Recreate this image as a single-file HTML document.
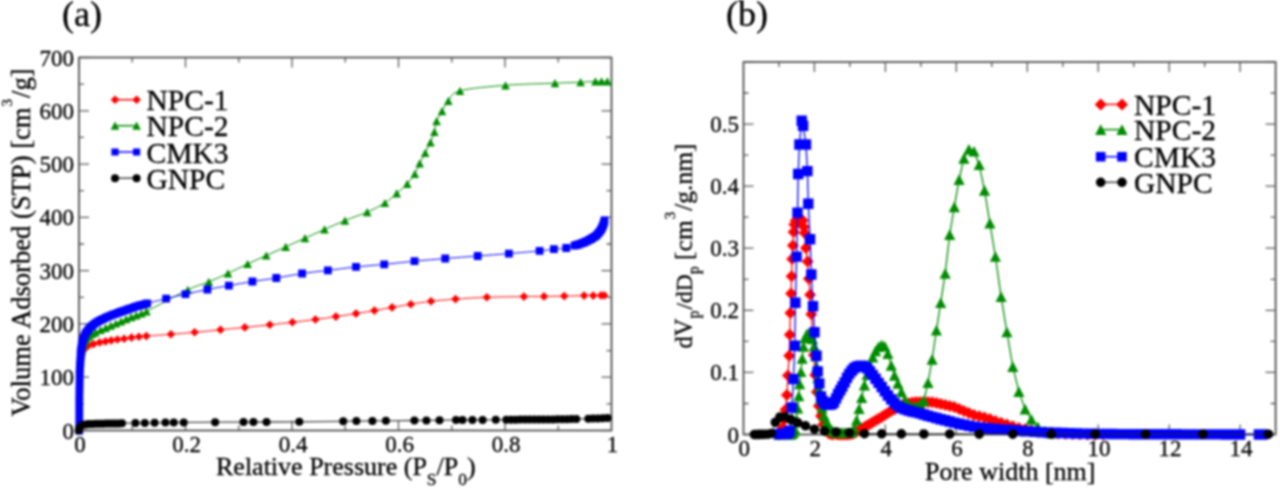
<!DOCTYPE html>
<html><head><meta charset="utf-8"><style>
html,body{margin:0;padding:0;background:#fff;width:1280px;height:488px;overflow:hidden}
svg{display:block;filter:blur(1px);font-family:"Liberation Serif",serif;fill:#000}
text{stroke:#000;stroke-width:0.3px}
</style></head><body>
<svg width="1280" height="488" viewBox="0 0 1280 488">
<rect x="79" y="57.5" width="532.5" height="373.0" fill="none" stroke="#3a3a3a" stroke-width="1.6"/>
<path d="M79 430.5v-10M79 57.5v10M132.2 430.5v-5M132.2 57.5v5M185.5 430.5v-10M185.5 57.5v10M238.8 430.5v-5M238.8 57.5v5M292 430.5v-10M292 57.5v10M345.2 430.5v-5M345.2 57.5v5M398.5 430.5v-10M398.5 57.5v10M451.8 430.5v-5M451.8 57.5v5M505 430.5v-10M505 57.5v10M558.2 430.5v-5M558.2 57.5v5M611.5 430.5v-10M611.5 57.5v10M79 430.5h10M611.5 430.5h-10M79 403.9h5M611.5 403.9h-5M79 377.2h10M611.5 377.2h-10M79 350.6h5M611.5 350.6h-5M79 323.9h10M611.5 323.9h-10M79 297.3h5M611.5 297.3h-5M79 270.6h10M611.5 270.6h-10M79 244h5M611.5 244h-5M79 217.4h10M611.5 217.4h-10M79 190.7h5M611.5 190.7h-5M79 164.1h10M611.5 164.1h-10M79 137.4h5M611.5 137.4h-5M79 110.8h10M611.5 110.8h-10M79 84.1h5M611.5 84.1h-5M79 57.5h10M611.5 57.5h-10" stroke="#5a5a5a" stroke-width="1.3" fill="none"/>
<rect x="743.5" y="62" width="532.0999999999999" height="372.5" fill="none" stroke="#3a3a3a" stroke-width="1.6"/>
<path d="M743.5 434.5v-10M743.5 62v10M779 434.5v-5M779 62v5M814.4 434.5v-10M814.4 62v10M849.9 434.5v-5M849.9 62v5M885.4 434.5v-10M885.4 62v10M920.9 434.5v-5M920.9 62v5M956.3 434.5v-10M956.3 62v10M991.8 434.5v-5M991.8 62v5M1027.3 434.5v-10M1027.3 62v10M1062.8 434.5v-5M1062.8 62v5M1098.2 434.5v-10M1098.2 62v10M1133.7 434.5v-5M1133.7 62v5M1169.2 434.5v-10M1169.2 62v10M1204.7 434.5v-5M1204.7 62v5M1240.1 434.5v-10M1240.1 62v10M1275.6 434.5v-5M1275.6 62v5M743.5 434.5h10M1275.6 434.5h-10M743.5 403.5h5M1275.6 403.5h-5M743.5 372.4h10M1275.6 372.4h-10M743.5 341.4h5M1275.6 341.4h-5M743.5 310.3h10M1275.6 310.3h-10M743.5 279.3h5M1275.6 279.3h-5M743.5 248.2h10M1275.6 248.2h-10M743.5 217.2h5M1275.6 217.2h-5M743.5 186.2h10M1275.6 186.2h-10M743.5 155.1h5M1275.6 155.1h-5M743.5 124.1h10M1275.6 124.1h-10M743.5 93h5M1275.6 93h-5M743.5 62h10M1275.6 62h-10" stroke="#5a5a5a" stroke-width="1.3" fill="none"/>
<path d="M79.6 372C79.6 371.4 79.8 369.6 79.9 368.4C80 367.2 80.1 366.1 80.2 364.9C80.3 363.7 80.4 362.5 80.5 361.3C80.7 360.1 80.9 359 81.1 357.8C81.4 356.6 81.4 355.4 81.8 354.3C82.1 353.1 82.6 352 83.1 351C83.7 350 84.3 348.9 85.1 348.1C85.9 347.2 86.6 346.7 88 346C89.4 345.3 91.5 344.7 93.4 344.1C95.3 343.5 97.6 342.9 99.6 342.5C101.6 342 103.6 341.8 105.5 341.4C107.4 341.1 109.2 340.7 111.2 340.4C113.2 340.1 115.2 339.8 117.4 339.5C119.6 339.2 121.8 339 124.1 338.7C126.4 338.4 129 337.9 131.5 337.6C134 337.3 136.4 337.1 138.9 336.8C141.4 336.6 141 336.5 146.3 336.1C151.6 335.7 162.9 334.9 170.9 334.3C178.9 333.7 186.3 333.1 194.6 332.3C202.9 331.6 212.1 330.6 220.5 329.8C228.9 329 236.6 328.2 244.8 327.4C253 326.6 261.9 325.6 269.8 324.8C277.7 324 284.8 323.2 292.4 322.3C300 321.4 308.1 320.4 315.4 319.5C322.6 318.6 329.1 317.6 335.9 316.6C342.7 315.6 349.6 314.6 356 313.6C362.4 312.6 368.4 311.6 374.4 310.6C380.4 309.6 386 308.5 392.1 307.4C398.2 306.3 404.3 305.2 410.8 304.2C417.3 303.2 423.6 302.1 431 301.3C438.4 300.5 446.2 299.8 455.5 299.1C464.8 298.4 475.4 297.7 486.8 297.3C498.2 296.9 514.4 296.8 523.9 296.6C533.4 296.5 537.3 296.5 544 296.4C550.7 296.3 557.5 296.2 564.2 296.1C570.9 296 579.3 295.7 584.1 295.6C588.9 295.5 590.4 295.6 593.2 295.6C596 295.6 599.1 295.4 601 295.4C602.9 295.4 603.8 295.4 604.3 295.4" fill="none" stroke="#ff0000" stroke-width="1.0" stroke-linejoin="round"/>
<path d="M79.6 367.7l4.3 4.3l-4.3 4.3l-4.3 -4.3zM79.9 364.1l4.3 4.3l-4.3 4.3l-4.3 -4.3zM80.2 360.6l4.3 4.3l-4.3 4.3l-4.3 -4.3zM80.5 357l4.3 4.3l-4.3 4.3l-4.3 -4.3zM81.1 353.5l4.3 4.3l-4.3 4.3l-4.3 -4.3zM81.8 350l4.3 4.3l-4.3 4.3l-4.3 -4.3zM83.1 346.7l4.3 4.3l-4.3 4.3l-4.3 -4.3zM85.1 343.8l4.3 4.3l-4.3 4.3l-4.3 -4.3zM88 341.7l4.3 4.3l-4.3 4.3l-4.3 -4.3zM93.4 339.8l4.3 4.3l-4.3 4.3l-4.3 -4.3zM99.6 338.2l4.3 4.3l-4.3 4.3l-4.3 -4.3zM105.5 337.1l4.3 4.3l-4.3 4.3l-4.3 -4.3zM111.2 336.1l4.3 4.3l-4.3 4.3l-4.3 -4.3zM117.4 335.2l4.3 4.3l-4.3 4.3l-4.3 -4.3zM124.1 334.4l4.3 4.3l-4.3 4.3l-4.3 -4.3zM131.5 333.3l4.3 4.3l-4.3 4.3l-4.3 -4.3zM138.9 332.5l4.3 4.3l-4.3 4.3l-4.3 -4.3zM146.3 331.8l4.3 4.3l-4.3 4.3l-4.3 -4.3zM170.9 330l4.3 4.3l-4.3 4.3l-4.3 -4.3zM194.6 328l4.3 4.3l-4.3 4.3l-4.3 -4.3zM220.5 325.5l4.3 4.3l-4.3 4.3l-4.3 -4.3zM244.8 323.1l4.3 4.3l-4.3 4.3l-4.3 -4.3zM269.8 320.5l4.3 4.3l-4.3 4.3l-4.3 -4.3zM292.4 318l4.3 4.3l-4.3 4.3l-4.3 -4.3zM315.4 315.2l4.3 4.3l-4.3 4.3l-4.3 -4.3zM335.9 312.3l4.3 4.3l-4.3 4.3l-4.3 -4.3zM356 309.3l4.3 4.3l-4.3 4.3l-4.3 -4.3zM374.4 306.3l4.3 4.3l-4.3 4.3l-4.3 -4.3zM392.1 303.1l4.3 4.3l-4.3 4.3l-4.3 -4.3zM410.8 299.9l4.3 4.3l-4.3 4.3l-4.3 -4.3zM431 297l4.3 4.3l-4.3 4.3l-4.3 -4.3zM455.5 294.8l4.3 4.3l-4.3 4.3l-4.3 -4.3zM486.8 293l4.3 4.3l-4.3 4.3l-4.3 -4.3zM523.9 292.3l4.3 4.3l-4.3 4.3l-4.3 -4.3zM544 292.1l4.3 4.3l-4.3 4.3l-4.3 -4.3zM564.2 291.8l4.3 4.3l-4.3 4.3l-4.3 -4.3zM584.1 291.3l4.3 4.3l-4.3 4.3l-4.3 -4.3zM593.2 291.3l4.3 4.3l-4.3 4.3l-4.3 -4.3zM601 291.1l4.3 4.3l-4.3 4.3l-4.3 -4.3zM604.3 291.1l4.3 4.3l-4.3 4.3l-4.3 -4.3z" fill="#ff0000"/>
<path d="M79.6 372C79.6 371.4 79.8 369.7 79.8 368.5C79.9 367.4 80 366.2 80.1 365.1C80.2 363.9 80.3 362.8 80.3 361.6C80.4 360.4 80.5 359.3 80.6 358.1C80.7 357 81 355.9 81.2 354.7C81.4 353.6 81.6 352.4 81.8 351.3C82 350.1 82.1 349 82.4 347.9C82.6 346.7 83.1 345.7 83.5 344.6C83.9 343.5 84.3 342.4 84.8 341.4C85.4 340.4 86.1 339.4 86.8 338.6C87.6 337.7 88.4 336.8 89.2 336.1C90.1 335.3 91 334.6 92 334C93 333.4 94.1 333 95.5 332.3C96.9 331.7 98.9 330.7 100.6 329.9C102.3 329.2 104 328.5 105.7 327.8C107.4 327.1 109.1 326.4 110.8 325.7C112.5 324.9 114.2 324.2 115.9 323.5C117.6 322.8 119.3 322.1 121 321.4C122.7 320.6 124.4 319.9 126.1 319.2C127.8 318.5 129.5 317.7 131.2 317.1C132.9 316.4 134.6 315.9 136.3 315.3C138 314.7 139.7 314.1 141.4 313.4C143.1 312.8 138.8 315.3 146.5 311.4C154.2 307.5 177.4 294.7 187.8 289.8C198.2 284.9 202.1 284.6 208.8 281.9C215.5 279.1 221.5 276.3 228 273.3C234.5 270.3 241.2 267 247.6 264C254 261 259.8 258.4 266.2 255.5C272.6 252.7 279.2 249.8 285.7 246.9C292.2 244 298.5 241.1 305 238.2C311.5 235.3 317.9 232.3 324.5 229.4C331.1 226.5 337.8 223.5 344.9 220.6C352 217.7 360.5 215 367.2 212.1C373.9 209.2 380 206.1 384.9 203C389.8 199.9 393 196.6 396.7 193.4C400.4 190.2 404.2 187.2 407.2 183.9C410.2 180.6 412.7 177.2 414.8 173.8C416.9 170.4 418 166.8 419.7 163.3C421.4 159.8 423.4 156.3 425.2 152.8C427 149.3 429 145.8 430.5 142.3C432 138.8 433.4 135.3 434.4 131.8C435.4 128.3 435.3 124.6 436.6 121.2C437.9 117.8 440.1 114.6 442 111.2C443.9 107.8 445.3 104.2 448.3 100.8C451.3 97.4 450.5 93.4 460 90.8C469.5 88.2 489.7 86.6 505.5 85.3C521.3 84 542.5 83.7 555 83.2C567.5 82.7 573.9 82.5 580.6 82.2C587.3 81.9 591.9 81.5 595.4 81.4C598.9 81.3 599.5 81.4 601.5 81.4C603.5 81.4 606.4 81.4 607.4 81.4" fill="none" stroke="#008c00" stroke-width="1.0" stroke-linejoin="round"/>
<path d="M79.6 367.9L83.9 376.1L75.3 376.1zM79.8 364.4L84.1 372.6L75.5 372.6zM80.1 361L84.4 369.2L75.8 369.2zM80.3 357.5L84.6 365.7L76 365.7zM80.6 354.1L84.9 362.2L76.3 362.2zM81.2 350.6L85.5 358.8L76.9 358.8zM81.8 347.2L86.1 355.4L77.5 355.4zM82.4 343.8L86.7 351.9L78.1 351.9zM83.5 340.5L87.8 348.7L79.2 348.7zM84.8 337.3L89.1 345.5L80.5 345.5zM86.8 334.5L91.1 342.6L82.5 342.6zM89.2 332L93.5 340.2L84.9 340.2zM92 329.9L96.3 338.1L87.7 338.1zM95.5 328.3L99.8 336.4L91.2 336.4zM100.6 325.9L104.9 334L96.3 334zM105.7 323.7L110 331.9L101.4 331.9zM110.8 321.6L115.1 329.7L106.5 329.7zM115.9 319.4L120.2 327.6L111.6 327.6zM121 317.3L125.3 325.5L116.7 325.5zM126.1 315.1L130.4 323.3L121.8 323.3zM131.2 313L135.5 321.2L126.9 321.2zM136.3 311.2L140.6 319.4L132 319.4zM141.4 309.4L145.7 317.5L137.1 317.5zM146.5 307.3L150.8 315.5L142.2 315.5zM187.8 285.7L192.1 293.9L183.5 293.9zM208.8 277.8L213.1 286L204.5 286zM228 269.2L232.3 277.4L223.7 277.4zM247.6 259.9L251.9 268.1L243.3 268.1zM266.2 251.4L270.5 259.6L261.9 259.6zM285.7 242.8L290 251L281.4 251zM305 234.1L309.3 242.3L300.7 242.3zM324.5 225.3L328.8 233.5L320.2 233.5zM344.9 216.5L349.2 224.7L340.6 224.7zM367.2 208L371.5 216.2L362.9 216.2zM384.9 198.9L389.2 207.1L380.6 207.1zM396.7 189.3L401 197.5L392.4 197.5zM407.2 179.8L411.5 188L402.9 188zM414.8 169.7L419.1 177.9L410.5 177.9zM419.7 159.2L424 167.4L415.4 167.4zM425.2 148.7L429.5 156.9L420.9 156.9zM430.5 138.2L434.8 146.4L426.2 146.4zM434.4 127.7L438.7 135.9L430.1 135.9zM436.6 117.1L440.9 125.3L432.3 125.3zM442 107.1L446.3 115.3L437.7 115.3zM448.3 96.7L452.6 104.9L444 104.9zM460 86.7L464.3 94.9L455.7 94.9zM505.5 81.2L509.8 89.4L501.2 89.4zM555 79.1L559.3 87.3L550.7 87.3zM580.6 78.1L584.9 86.3L576.3 86.3zM595.4 77.3L599.7 85.5L591.1 85.5zM601.5 77.3L605.8 85.5L597.2 85.5zM607.4 77.3L611.7 85.5L603.1 85.5z" fill="#008c00"/>
<path d="M79.3 430.5C79.3 430.1 79.3 428.8 79.3 427.9C79.3 427.1 79.3 426.2 79.3 425.3C79.3 424.5 79.3 423.6 79.3 422.8C79.3 421.9 79.3 421 79.3 420.2C79.3 419.3 79.3 418.5 79.3 417.6C79.3 416.7 79.3 415.9 79.3 415C79.3 414.2 79.3 413.3 79.3 412.4C79.3 411.6 79.3 410.7 79.3 409.8C79.3 409 79.3 408.1 79.3 407.3C79.3 406.4 79.3 405.5 79.3 404.7C79.3 403.8 79.3 403 79.3 402.1C79.3 401.2 79.3 400.4 79.3 399.5C79.3 398.7 79.3 397.8 79.4 396.9C79.4 396.1 79.4 395.2 79.4 394.4C79.4 393.5 79.4 392.6 79.4 391.8C79.5 390.9 79.5 390.1 79.5 389.2C79.5 388.3 79.5 387.5 79.5 386.6C79.5 385.8 79.6 384.9 79.6 384C79.6 383.2 79.6 382.3 79.6 381.5C79.6 380.6 79.6 379.7 79.7 378.9C79.7 378 79.7 377.2 79.7 376.3C79.7 375.4 79.7 374.6 79.7 373.7C79.8 372.9 79.8 372 79.8 371.1C79.8 370.3 79.8 369.4 79.9 368.6C79.9 367.7 80 366.8 80 366C80.1 365.1 80.1 364.3 80.2 363.4C80.2 362.5 80.3 361.7 80.3 360.8C80.4 360 80.4 359.1 80.5 358.2C80.5 357.4 80.5 356.5 80.6 355.7C80.6 354.8 80.7 353.9 80.7 353.1C80.8 352.2 80.9 351.4 81 350.5C81.1 349.7 81.3 348.8 81.4 348C81.6 347.1 81.7 346.3 81.8 345.4C81.9 344.6 82.1 343.7 82.2 342.9C82.4 342 82.5 341.2 82.8 340.4C83 339.5 83.4 338.8 83.7 338C84 337.2 84.3 336.4 84.7 335.6C85 334.8 85.3 334 85.7 333.2C86.1 332.5 86.7 331.8 87.3 331.2C87.8 330.5 88.3 329.8 88.8 329.1C89.3 328.4 89.9 327.7 90.5 327.1C91.1 326.5 91.8 326.1 92.5 325.5C93.2 325 93.8 324.5 94.5 323.9C95.2 323.4 95.8 322.8 96.6 322.3C97.3 321.9 98 321.5 98.8 321.1C99.6 320.7 100.3 320.3 101.1 319.9C101.9 319.6 102.7 319.2 103.4 318.8C104.2 318.4 104.9 318 105.7 317.6C106.5 317.3 107.3 317 108.1 316.7C108.9 316.3 109.7 316 110.5 315.7C111.3 315.4 112.1 315.1 112.9 314.7C113.7 314.4 114.5 314.1 115.3 313.8C116.1 313.5 116.9 313.2 117.7 312.9C118.5 312.6 119.4 312.3 120.2 312C121 311.8 121.8 311.5 122.6 311.2C123.4 310.9 124.2 310.6 125 310.3C125.9 310.1 126.7 309.8 127.5 309.5C128.3 309.2 129.1 308.9 129.9 308.6C130.7 308.3 131.5 308.1 132.4 307.8C133.2 307.5 134 307.2 134.8 306.9C135.6 306.7 136.4 306.4 137.2 306.2C138.1 305.9 138.9 305.7 139.7 305.5C140.6 305.2 141.4 305 142.2 304.8C143.1 304.5 143.9 304.3 144.7 304.1C145.5 303.9 143.6 304.3 147.2 303.4C150.8 302.5 159.7 300.2 166.1 298.7C172.5 297.1 178.6 295.6 185.5 294.1C192.4 292.6 200.2 290.9 207.4 289.5C214.6 288.1 221.4 286.9 228.9 285.6C236.4 284.3 244.5 282.8 252.4 281.5C260.3 280.2 268 279.3 276.3 278C284.6 276.7 293.5 274.8 302.1 273.5C310.7 272.2 318.9 271.5 327.9 270.4C336.9 269.3 346.6 267.9 356 266.9C365.4 265.9 374.4 265.3 384.2 264.4C393.9 263.4 404.3 262.2 414.5 261.2C424.7 260.2 434.7 259.4 445.2 258.5C455.7 257.6 467.1 256.8 477.7 256C488.3 255.2 498.6 254.4 508.9 253.6C519.2 252.8 532.1 251.6 539.6 250.9C547.1 250.2 549.5 249.7 553.9 249.2C558.3 248.7 562.8 248.6 566.2 248C569.6 247.4 572.8 246.1 574.5 245.6C576.2 245.1 575.8 245.2 576.4 245C577 244.9 577.7 244.7 578.3 244.5C578.9 244.3 579.6 244.1 580.2 243.9C580.8 243.7 581.4 243.4 582 243.2C582.6 242.9 583.3 242.7 583.9 242.5C584.5 242.2 585.1 242 585.7 241.7C586.3 241.4 586.9 241.1 587.5 240.8C588.1 240.5 588.6 240.2 589.2 239.9C589.8 239.6 590.4 239.3 591 239C591.6 238.7 592.1 238.3 592.7 237.9C593.2 237.6 593.8 237.2 594.3 236.9C594.9 236.5 595.5 236.2 596 235.8C596.5 235.4 596.9 234.8 597.3 234.4C597.8 233.9 598.2 233.4 598.7 232.9C599.1 232.4 599.5 231.9 599.9 231.4C600.3 230.8 600.6 230.3 601 229.7C601.3 229.1 601.7 228.6 602 228C602.3 227.4 602.5 226.8 602.7 226.2C603 225.5 603.2 224.9 603.5 224.3C603.7 223.7 603.8 223 604 222.4C604.2 221.8 604.4 220.8 604.5 220.5" fill="none" stroke="#0000ff" stroke-width="1.0" stroke-linejoin="round"/>
<path d="M75.4 426.6h7.8v7.8h-7.8zM75.4 424h7.8v7.8h-7.8zM75.4 421.4h7.8v7.8h-7.8zM75.4 418.9h7.8v7.8h-7.8zM75.4 416.3h7.8v7.8h-7.8zM75.4 413.7h7.8v7.8h-7.8zM75.4 411.1h7.8v7.8h-7.8zM75.4 408.5h7.8v7.8h-7.8zM75.4 405.9h7.8v7.8h-7.8zM75.4 403.4h7.8v7.8h-7.8zM75.4 400.8h7.8v7.8h-7.8zM75.4 398.2h7.8v7.8h-7.8zM75.4 395.6h7.8v7.8h-7.8zM75.5 393h7.8v7.8h-7.8zM75.5 390.5h7.8v7.8h-7.8zM75.5 387.9h7.8v7.8h-7.8zM75.6 385.3h7.8v7.8h-7.8zM75.6 382.7h7.8v7.8h-7.8zM75.7 380.1h7.8v7.8h-7.8zM75.7 377.6h7.8v7.8h-7.8zM75.8 375h7.8v7.8h-7.8zM75.8 372.4h7.8v7.8h-7.8zM75.8 369.8h7.8v7.8h-7.8zM75.9 367.2h7.8v7.8h-7.8zM76 364.7h7.8v7.8h-7.8zM76.1 362.1h7.8v7.8h-7.8zM76.3 359.5h7.8v7.8h-7.8zM76.4 356.9h7.8v7.8h-7.8zM76.6 354.3h7.8v7.8h-7.8zM76.7 351.8h7.8v7.8h-7.8zM76.8 349.2h7.8v7.8h-7.8zM77.1 346.6h7.8v7.8h-7.8zM77.5 344.1h7.8v7.8h-7.8zM77.9 341.5h7.8v7.8h-7.8zM78.3 339h7.8v7.8h-7.8zM78.9 336.5h7.8v7.8h-7.8zM79.8 334.1h7.8v7.8h-7.8zM80.8 331.7h7.8v7.8h-7.8zM81.8 329.3h7.8v7.8h-7.8zM83.4 327.3h7.8v7.8h-7.8zM84.9 325.2h7.8v7.8h-7.8zM86.6 323.2h7.8v7.8h-7.8zM88.6 321.6h7.8v7.8h-7.8zM90.6 320h7.8v7.8h-7.8zM92.7 318.4h7.8v7.8h-7.8zM94.9 317.2h7.8v7.8h-7.8zM97.2 316h7.8v7.8h-7.8zM99.5 314.9h7.8v7.8h-7.8zM101.8 313.7h7.8v7.8h-7.8zM104.2 312.8h7.8v7.8h-7.8zM106.6 311.8h7.8v7.8h-7.8zM109 310.8h7.8v7.8h-7.8zM111.4 309.9h7.8v7.8h-7.8zM113.8 309h7.8v7.8h-7.8zM116.3 308.1h7.8v7.8h-7.8zM118.7 307.3h7.8v7.8h-7.8zM121.1 306.4h7.8v7.8h-7.8zM123.6 305.6h7.8v7.8h-7.8zM126 304.7h7.8v7.8h-7.8zM128.5 303.9h7.8v7.8h-7.8zM130.9 303h7.8v7.8h-7.8zM133.3 302.3h7.8v7.8h-7.8zM135.8 301.6h7.8v7.8h-7.8zM138.3 300.9h7.8v7.8h-7.8zM140.8 300.2h7.8v7.8h-7.8zM143.3 299.5h7.8v7.8h-7.8zM162.2 294.8h7.8v7.8h-7.8zM181.6 290.2h7.8v7.8h-7.8zM203.5 285.6h7.8v7.8h-7.8zM225 281.7h7.8v7.8h-7.8zM248.5 277.6h7.8v7.8h-7.8zM272.4 274.1h7.8v7.8h-7.8zM298.2 269.6h7.8v7.8h-7.8zM324 266.5h7.8v7.8h-7.8zM352.1 263h7.8v7.8h-7.8zM380.3 260.5h7.8v7.8h-7.8zM410.6 257.3h7.8v7.8h-7.8zM441.3 254.6h7.8v7.8h-7.8zM473.8 252.1h7.8v7.8h-7.8zM505 249.7h7.8v7.8h-7.8zM535.7 247h7.8v7.8h-7.8zM550 245.3h7.8v7.8h-7.8zM562.3 244.1h7.8v7.8h-7.8zM570.6 241.7h7.8v7.8h-7.8zM572.5 241.1h7.8v7.8h-7.8zM574.4 240.6h7.8v7.8h-7.8zM576.3 240h7.8v7.8h-7.8zM578.1 239.3h7.8v7.8h-7.8zM580 238.6h7.8v7.8h-7.8zM581.8 237.8h7.8v7.8h-7.8zM583.6 236.9h7.8v7.8h-7.8zM585.3 236h7.8v7.8h-7.8zM587.1 235.1h7.8v7.8h-7.8zM588.8 234h7.8v7.8h-7.8zM590.4 233h7.8v7.8h-7.8zM592.1 231.9h7.8v7.8h-7.8zM593.4 230.5h7.8v7.8h-7.8zM594.8 229h7.8v7.8h-7.8zM596 227.5h7.8v7.8h-7.8zM597.1 225.8h7.8v7.8h-7.8zM598.1 224.1h7.8v7.8h-7.8zM598.8 222.3h7.8v7.8h-7.8zM599.6 220.4h7.8v7.8h-7.8zM600.1 218.5h7.8v7.8h-7.8zM600.6 216.6h7.8v7.8h-7.8z" fill="#0000ff"/>
<path d="M78.6 430.5C78.7 430.1 79 428.8 79.3 428C79.7 427.3 80.3 426.6 81 426C81.6 425.5 82.3 425.1 83.1 424.8C83.9 424.5 84.8 424.5 85.7 424.4C86.5 424.3 87.4 424.1 88.2 424C89.1 423.9 90 424 90.8 423.9C91.7 423.9 92.6 423.9 93.4 423.9C94.3 423.9 95.2 423.9 96 423.8C96.9 423.8 97.8 423.8 98.6 423.8C99.5 423.8 100.4 423.7 101.2 423.7C102.1 423.7 103 423.7 103.8 423.7C104.7 423.7 105.6 423.6 106.4 423.6C107.3 423.6 108.1 423.6 109 423.6C109.9 423.5 110.7 423.5 111.6 423.5C112.5 423.5 113.3 423.5 114.2 423.5C115.1 423.4 115.9 423.4 116.8 423.4C117.7 423.4 118.5 423.4 119.4 423.4C120.3 423.3 119.3 423.3 122 423.3C124.7 423.3 131.6 423.1 135.4 423.1C139.2 423 141.6 423 144.8 422.9C148 422.9 151.2 422.8 154.6 422.7C158 422.7 162.2 422.6 165.4 422.6C168.6 422.6 170.8 422.5 173.8 422.5C176.9 422.5 176.8 422.4 183.7 422.4C190.6 422.4 205.1 422.3 215.1 422.2C225.1 422.2 237.1 422.1 243.5 422.1C249.9 422.1 249.6 422.1 253.4 422C257.2 422 258.9 422 266.5 422C274.1 421.9 286.5 421.9 299.3 421.8C312.1 421.7 333.7 421.4 343.2 421.3C352.7 421.2 351.5 421.2 356.4 421.1C361.3 421.1 367.5 421 372.4 420.9C377.3 420.9 378.9 420.8 385.9 420.8C392.9 420.7 407.6 420.5 414.4 420.5C421.1 420.4 422.2 420.4 426.4 420.4C430.6 420.3 434.6 420.3 439.5 420.3C444.4 420.2 452.2 420.2 456 420.1C459.8 420.1 459.8 420.1 462.5 420.1C465.2 420.1 469 420.1 472.4 420C475.8 420 478.7 420 482.6 419.9C486.5 419.9 491.9 419.9 495.8 419.8C499.8 419.8 503.8 419.8 506.3 419.7C508.8 419.7 509.4 419.7 511 419.7C512.5 419.7 514.1 419.7 515.6 419.7C517.2 419.7 518.7 419.6 520.3 419.6C521.9 419.6 523.4 419.6 525 419.6C526.5 419.6 528.1 419.6 529.6 419.6C531.2 419.6 532.7 419.5 534.3 419.5C535.9 419.5 537.4 419.5 539 419.5C540.5 419.5 542.1 419.5 543.6 419.5C545.2 419.4 546.7 419.4 548.3 419.4C549.9 419.4 551.4 419.4 553 419.4C554.5 419.3 556.1 419.3 557.6 419.3C559.2 419.3 560.7 419.3 562.3 419.3C563.9 419.2 565.4 419.2 567 419.2C568.5 419.2 570.1 419.2 571.6 419.1C573.2 419.1 573.5 419.1 576.3 419.1C579.1 419 585.5 418.9 588.3 418.8C591.1 418.7 591.5 418.7 593.1 418.6C594.7 418.6 596.3 418.5 597.9 418.4C599.5 418.4 601.1 418.3 602.7 418.2C604.3 418.2 606.7 418.1 607.5 418" fill="none" stroke="#444" stroke-width="1.3" stroke-linejoin="round"/>
<path d="M74.6 430.5a4 4 0 1 0 8 0a4 4 0 1 0 -8 0zM75.3 428a4 4 0 1 0 8 0a4 4 0 1 0 -8 0zM77 426a4 4 0 1 0 8 0a4 4 0 1 0 -8 0zM79.1 424.8a4 4 0 1 0 8 0a4 4 0 1 0 -8 0zM81.7 424.4a4 4 0 1 0 8 0a4 4 0 1 0 -8 0zM84.2 424a4 4 0 1 0 8 0a4 4 0 1 0 -8 0zM86.8 423.9a4 4 0 1 0 8 0a4 4 0 1 0 -8 0zM89.4 423.9a4 4 0 1 0 8 0a4 4 0 1 0 -8 0zM92 423.8a4 4 0 1 0 8 0a4 4 0 1 0 -8 0zM94.6 423.8a4 4 0 1 0 8 0a4 4 0 1 0 -8 0zM97.2 423.7a4 4 0 1 0 8 0a4 4 0 1 0 -8 0zM99.8 423.7a4 4 0 1 0 8 0a4 4 0 1 0 -8 0zM102.4 423.6a4 4 0 1 0 8 0a4 4 0 1 0 -8 0zM105 423.6a4 4 0 1 0 8 0a4 4 0 1 0 -8 0zM107.6 423.5a4 4 0 1 0 8 0a4 4 0 1 0 -8 0zM110.2 423.5a4 4 0 1 0 8 0a4 4 0 1 0 -8 0zM112.8 423.4a4 4 0 1 0 8 0a4 4 0 1 0 -8 0zM115.4 423.4a4 4 0 1 0 8 0a4 4 0 1 0 -8 0zM118 423.3a4 4 0 1 0 8 0a4 4 0 1 0 -8 0zM131.4 423.1a4 4 0 1 0 8 0a4 4 0 1 0 -8 0zM140.8 422.9a4 4 0 1 0 8 0a4 4 0 1 0 -8 0zM150.6 422.7a4 4 0 1 0 8 0a4 4 0 1 0 -8 0zM161.4 422.6a4 4 0 1 0 8 0a4 4 0 1 0 -8 0zM169.8 422.5a4 4 0 1 0 8 0a4 4 0 1 0 -8 0zM179.7 422.4a4 4 0 1 0 8 0a4 4 0 1 0 -8 0zM211.1 422.2a4 4 0 1 0 8 0a4 4 0 1 0 -8 0zM239.5 422.1a4 4 0 1 0 8 0a4 4 0 1 0 -8 0zM249.4 422a4 4 0 1 0 8 0a4 4 0 1 0 -8 0zM262.5 422a4 4 0 1 0 8 0a4 4 0 1 0 -8 0zM295.3 421.8a4 4 0 1 0 8 0a4 4 0 1 0 -8 0zM339.2 421.3a4 4 0 1 0 8 0a4 4 0 1 0 -8 0zM352.4 421.1a4 4 0 1 0 8 0a4 4 0 1 0 -8 0zM368.4 420.9a4 4 0 1 0 8 0a4 4 0 1 0 -8 0zM381.9 420.8a4 4 0 1 0 8 0a4 4 0 1 0 -8 0zM410.4 420.5a4 4 0 1 0 8 0a4 4 0 1 0 -8 0zM422.4 420.4a4 4 0 1 0 8 0a4 4 0 1 0 -8 0zM435.5 420.3a4 4 0 1 0 8 0a4 4 0 1 0 -8 0zM452 420.1a4 4 0 1 0 8 0a4 4 0 1 0 -8 0zM458.5 420.1a4 4 0 1 0 8 0a4 4 0 1 0 -8 0zM468.4 420a4 4 0 1 0 8 0a4 4 0 1 0 -8 0zM478.6 419.9a4 4 0 1 0 8 0a4 4 0 1 0 -8 0zM491.8 419.8a4 4 0 1 0 8 0a4 4 0 1 0 -8 0zM502.3 419.7a4 4 0 1 0 8 0a4 4 0 1 0 -8 0zM507 419.7a4 4 0 1 0 8 0a4 4 0 1 0 -8 0zM511.6 419.7a4 4 0 1 0 8 0a4 4 0 1 0 -8 0zM516.3 419.6a4 4 0 1 0 8 0a4 4 0 1 0 -8 0zM521 419.6a4 4 0 1 0 8 0a4 4 0 1 0 -8 0zM525.6 419.6a4 4 0 1 0 8 0a4 4 0 1 0 -8 0zM530.3 419.5a4 4 0 1 0 8 0a4 4 0 1 0 -8 0zM535 419.5a4 4 0 1 0 8 0a4 4 0 1 0 -8 0zM539.6 419.5a4 4 0 1 0 8 0a4 4 0 1 0 -8 0zM544.3 419.4a4 4 0 1 0 8 0a4 4 0 1 0 -8 0zM549 419.4a4 4 0 1 0 8 0a4 4 0 1 0 -8 0zM553.6 419.3a4 4 0 1 0 8 0a4 4 0 1 0 -8 0zM558.3 419.3a4 4 0 1 0 8 0a4 4 0 1 0 -8 0zM563 419.2a4 4 0 1 0 8 0a4 4 0 1 0 -8 0zM567.6 419.1a4 4 0 1 0 8 0a4 4 0 1 0 -8 0zM572.3 419.1a4 4 0 1 0 8 0a4 4 0 1 0 -8 0zM584.3 418.8a4 4 0 1 0 8 0a4 4 0 1 0 -8 0zM589.1 418.6a4 4 0 1 0 8 0a4 4 0 1 0 -8 0zM593.9 418.4a4 4 0 1 0 8 0a4 4 0 1 0 -8 0zM598.7 418.2a4 4 0 1 0 8 0a4 4 0 1 0 -8 0zM603.5 418a4 4 0 1 0 8 0a4 4 0 1 0 -8 0z" fill="#000000"/>
<path d="M779 434.5 781 433 782.5 428 784 420 785.4 409.8 786.9 395.1 787.9 375.4 789.2 355.7 789.8 334.8 790.4 313.1 791.1 293.4 791.6 276.2 792.1 259 792.9 245.5 793.6 232 794.3 224.6 795.5 221 796.9 220 798.3 219.7 799.7 219.7 801.2 219.7 802.7 220.5 803.9 227 804.6 233 805.9 248 807.6 261.5 808.8 278.7 810.1 294.7 811.3 314.3 812.6 335 813.8 355 815.2 375 816.8 392 818.8 406 821 416 823.3 424.5 826 430.5 829 433.5 832 434.5 834 433.5 836.1 433.9 838.1 434.2 840.3 434.4 842.4 434.5 844.7 434.5 847 434.4 849.3 434.2 851.7 433.9 854.1 433 856.6 431.6 859.1 430.3 861.7 428.8 864.4 427.2 867.1 425.6 869.9 424 872.7 422.2 875.6 420.5 878.6 418.7 881.7 416.9 884.8 414.9 887.9 413 891.2 411.1 894.5 409.3 897.9 407.3 901.4 405.6 904.9 404.4 908.6 403.3 912.3 402.5 916.1 402 920 402 923.9 401.9 928 401.9 932.1 402.2 936.4 403.1 940.7 404.1 945.2 405 949.7 405.9 954.3 407.1 959.1 408.9 963.9 411 968.9 413 974 414.9 979.2 416.3 984.5 417.6 989.9 419.1 995.4 420.9 1001.1 422.7 1006.9 424.5 1012.8 426.3 1018.9 428 1025.1 429.3 1031.4 430.4 1037.9 431.4 1044.5 432.2 1051.3 432.9 1058.2 433.4 1065.3 433.7 1072.5 434 1079.9 434.2 1087.5 434.4 1095.2 434.5 1103.2 434.5" fill="none" stroke="#ff0000" stroke-width="1.3" stroke-linejoin="round"/>
<path d="M779 428.5l6 6l-6 6l-6 -6zM781 427l6 6l-6 6l-6 -6zM782.5 422l6 6l-6 6l-6 -6zM784 414l6 6l-6 6l-6 -6zM785.4 403.8l6 6l-6 6l-6 -6zM786.9 389.1l6 6l-6 6l-6 -6zM787.9 369.4l6 6l-6 6l-6 -6zM789.2 349.7l6 6l-6 6l-6 -6zM789.8 328.8l6 6l-6 6l-6 -6zM790.4 307.1l6 6l-6 6l-6 -6zM791.1 287.4l6 6l-6 6l-6 -6zM791.6 270.2l6 6l-6 6l-6 -6zM792.1 253l6 6l-6 6l-6 -6zM792.9 239.5l6 6l-6 6l-6 -6zM793.6 226l6 6l-6 6l-6 -6zM794.3 218.6l6 6l-6 6l-6 -6zM795.5 215l6 6l-6 6l-6 -6zM796.9 214l6 6l-6 6l-6 -6zM798.3 213.7l6 6l-6 6l-6 -6zM799.7 213.7l6 6l-6 6l-6 -6zM801.2 213.7l6 6l-6 6l-6 -6zM802.7 214.5l6 6l-6 6l-6 -6zM803.9 221l6 6l-6 6l-6 -6zM804.6 227l6 6l-6 6l-6 -6zM805.9 242l6 6l-6 6l-6 -6zM807.6 255.5l6 6l-6 6l-6 -6zM808.8 272.7l6 6l-6 6l-6 -6zM810.1 288.7l6 6l-6 6l-6 -6zM811.3 308.3l6 6l-6 6l-6 -6zM812.6 329l6 6l-6 6l-6 -6zM813.8 349l6 6l-6 6l-6 -6zM815.2 369l6 6l-6 6l-6 -6zM816.8 386l6 6l-6 6l-6 -6zM818.8 400l6 6l-6 6l-6 -6zM821 410l6 6l-6 6l-6 -6zM823.3 418.5l6 6l-6 6l-6 -6zM826 424.5l6 6l-6 6l-6 -6zM829 427.5l6 6l-6 6l-6 -6zM832 428.5l6 6l-6 6l-6 -6zM834 427.5l6 6l-6 6l-6 -6zM836.1 427.9l6 6l-6 6l-6 -6zM838.1 428.2l6 6l-6 6l-6 -6zM840.3 428.4l6 6l-6 6l-6 -6zM842.4 428.5l6 6l-6 6l-6 -6zM844.7 428.5l6 6l-6 6l-6 -6zM847 428.4l6 6l-6 6l-6 -6zM849.3 428.2l6 6l-6 6l-6 -6zM851.7 427.9l6 6l-6 6l-6 -6zM854.1 427l6 6l-6 6l-6 -6zM856.6 425.6l6 6l-6 6l-6 -6zM859.1 424.3l6 6l-6 6l-6 -6zM861.7 422.8l6 6l-6 6l-6 -6zM864.4 421.2l6 6l-6 6l-6 -6zM867.1 419.6l6 6l-6 6l-6 -6zM869.9 418l6 6l-6 6l-6 -6zM872.7 416.2l6 6l-6 6l-6 -6zM875.6 414.5l6 6l-6 6l-6 -6zM878.6 412.7l6 6l-6 6l-6 -6zM881.7 410.9l6 6l-6 6l-6 -6zM884.8 408.9l6 6l-6 6l-6 -6zM887.9 407l6 6l-6 6l-6 -6zM891.2 405.1l6 6l-6 6l-6 -6zM894.5 403.3l6 6l-6 6l-6 -6zM897.9 401.3l6 6l-6 6l-6 -6zM901.4 399.6l6 6l-6 6l-6 -6zM904.9 398.4l6 6l-6 6l-6 -6zM908.6 397.3l6 6l-6 6l-6 -6zM912.3 396.5l6 6l-6 6l-6 -6zM916.1 396l6 6l-6 6l-6 -6zM920 396l6 6l-6 6l-6 -6zM923.9 395.9l6 6l-6 6l-6 -6zM928 395.9l6 6l-6 6l-6 -6zM932.1 396.2l6 6l-6 6l-6 -6zM936.4 397.1l6 6l-6 6l-6 -6zM940.7 398.1l6 6l-6 6l-6 -6zM945.2 399l6 6l-6 6l-6 -6zM949.7 399.9l6 6l-6 6l-6 -6zM954.3 401.1l6 6l-6 6l-6 -6zM959.1 402.9l6 6l-6 6l-6 -6zM963.9 405l6 6l-6 6l-6 -6zM968.9 407l6 6l-6 6l-6 -6zM974 408.9l6 6l-6 6l-6 -6zM979.2 410.3l6 6l-6 6l-6 -6zM984.5 411.6l6 6l-6 6l-6 -6zM989.9 413.1l6 6l-6 6l-6 -6zM995.4 414.9l6 6l-6 6l-6 -6zM1001.1 416.7l6 6l-6 6l-6 -6zM1006.9 418.5l6 6l-6 6l-6 -6zM1012.8 420.3l6 6l-6 6l-6 -6zM1018.9 422l6 6l-6 6l-6 -6zM1025.1 423.3l6 6l-6 6l-6 -6zM1031.4 424.4l6 6l-6 6l-6 -6zM1037.9 425.4l6 6l-6 6l-6 -6zM1044.5 426.2l6 6l-6 6l-6 -6zM1051.3 426.9l6 6l-6 6l-6 -6zM1058.2 427.4l6 6l-6 6l-6 -6zM1065.3 427.7l6 6l-6 6l-6 -6zM1072.5 428l6 6l-6 6l-6 -6zM1079.9 428.2l6 6l-6 6l-6 -6zM1087.5 428.4l6 6l-6 6l-6 -6zM1095.2 428.5l6 6l-6 6l-6 -6zM1103.2 428.5l6 6l-6 6l-6 -6z" fill="#ff0000"/>
<path d="M779.1 434.5 779.9 434.5 780.7 434.5 781.5 434.5 782.4 434.5 783.2 434.5 784.1 434.5 785 434.5 786 434.5 786.9 434.5 787.9 434.5 788.9 434.5 789.9 434.5 791 434.1 792 433.1 793.5 432.5 795.2 430 796.5 420 797.7 408.3 798.8 396 799.7 384 800.9 371.7 802.2 358.5 803.5 346.5 805 338 806.8 334 808.6 333.5 810.5 335 812.5 339 814.2 346 815.5 356 816.6 367 817.7 378 818.9 389 820.3 399 822 408 824 415.5 826.5 421.5 829.3 426.5 832.2 430.5 835.3 432.3 838.5 432.6 840.3 432.6 842.4 432.6 844.7 432.6 847 432.6 849.3 432.6 851.7 432 854.1 429.1 856.6 420.1 859.1 408.7 861.7 397.8 864.4 385.2 867.1 374.8 869.9 365.3 872.7 357.1 875.6 350.8 878.6 346.7 881.7 345 884.8 346.3 887.9 353.6 891.2 365.4 894.5 375.4 897.9 383.5 901.4 391.9 904.9 400.3 908.6 404.4 912.3 406.4 916.1 406.2 920 404.6 923.9 400.5 928 382.8 932.1 359.5 936.4 330.3 940.7 302.7 945.2 273.4 949.7 234.5 954.3 206.9 959.1 179.6 963.9 158.4 968.9 149.3 974 151.2 979.2 164.7 984.5 190.3 989.9 223.1 995.4 256.5 1001.1 296.6 1006.9 332 1012.8 366.6 1018.9 391.6 1025.1 409.1 1031.4 419.3 1037.9 426.8 1044.5 431 1051.3 433.1" fill="none" stroke="#008c00" stroke-width="1.3" stroke-linejoin="round"/>
<path d="M779.1 429.2L784.7 439.8L773.5 439.8zM779.9 429.2L785.5 439.8L774.3 439.8zM780.7 429.2L786.3 439.8L775.1 439.8zM781.5 429.2L787.1 439.8L775.9 439.8zM782.4 429.2L788 439.8L776.8 439.8zM783.2 429.2L788.8 439.8L777.6 439.8zM784.1 429.2L789.7 439.8L778.5 439.8zM785 429.2L790.6 439.8L779.4 439.8zM786 429.2L791.6 439.8L780.4 439.8zM786.9 429.2L792.5 439.8L781.3 439.8zM787.9 429.2L793.5 439.8L782.3 439.8zM788.9 429.2L794.5 439.8L783.3 439.8zM789.9 429.2L795.5 439.8L784.3 439.8zM791 428.7L796.6 439.4L785.4 439.4zM792 427.8L797.6 438.4L786.4 438.4zM793.5 427.2L799.1 437.8L787.9 437.8zM795.2 424.7L800.8 435.3L789.6 435.3zM796.5 414.7L802.1 425.3L790.9 425.3zM797.7 403L803.3 413.6L792.1 413.6zM798.8 390.7L804.4 401.3L793.2 401.3zM799.7 378.7L805.3 389.3L794.1 389.3zM800.9 366.4L806.5 377L795.3 377zM802.2 353.2L807.8 363.8L796.6 363.8zM803.5 341.2L809.1 351.8L797.9 351.8zM805 332.7L810.6 343.3L799.4 343.3zM806.8 328.7L812.4 339.3L801.2 339.3zM808.6 328.2L814.2 338.8L803 338.8zM810.5 329.7L816.1 340.3L804.9 340.3zM812.5 333.7L818.1 344.3L806.9 344.3zM814.2 340.7L819.8 351.3L808.6 351.3zM815.5 350.7L821.1 361.3L809.9 361.3zM816.6 361.7L822.2 372.3L811 372.3zM817.7 372.7L823.3 383.3L812.1 383.3zM818.9 383.7L824.5 394.3L813.3 394.3zM820.3 393.7L825.9 404.3L814.7 404.3zM822 402.7L827.6 413.3L816.4 413.3zM824 410.2L829.6 420.8L818.4 420.8zM826.5 416.2L832.1 426.8L820.9 426.8zM829.3 421.2L834.9 431.8L823.7 431.8zM832.2 425.2L837.8 435.8L826.6 435.8zM835.3 427L840.9 437.6L829.7 437.6zM838.5 427.3L844.1 437.9L832.9 437.9zM840.3 427.3L845.9 438L834.7 438zM842.4 427.3L848 438L836.8 438zM844.7 427.3L850.3 438L839.1 438zM847 427.3L852.6 438L841.4 438zM849.3 427.3L854.9 438L843.7 438zM851.7 426.7L857.3 437.3L846.1 437.3zM854.1 423.8L859.7 434.4L848.5 434.4zM856.6 414.8L862.2 425.4L851 425.4zM859.1 403.4L864.7 414L853.5 414zM861.7 392.5L867.3 403.1L856.1 403.1zM864.4 379.8L870 390.5L858.8 390.5zM867.1 369.5L872.7 380.1L861.5 380.1zM869.9 360L875.5 370.7L864.3 370.7zM872.7 351.8L878.3 362.4L867.1 362.4zM875.6 345.5L881.2 356.2L870 356.2zM878.6 341.4L884.2 352L873 352zM881.7 339.6L887.3 350.3L876.1 350.3zM884.8 340.9L890.4 351.6L879.2 351.6zM887.9 348.2L893.5 358.9L882.3 358.9zM891.2 360.1L896.8 370.7L885.6 370.7zM894.5 370.1L900.1 380.7L888.9 380.7zM897.9 378.2L903.5 388.8L892.3 388.8zM901.4 386.6L907 397.2L895.8 397.2zM904.9 395L910.5 405.6L899.3 405.6zM908.6 399.1L914.2 409.7L903 409.7zM912.3 401L917.9 411.7L906.7 411.7zM916.1 400.9L921.7 411.6L910.5 411.6zM920 399.3L925.6 409.9L914.4 409.9zM923.9 395.2L929.5 405.9L918.3 405.9zM928 377.5L933.6 388.1L922.4 388.1zM932.1 354.1L937.7 364.8L926.5 364.8zM936.4 325L942 335.6L930.8 335.6zM940.7 297.4L946.3 308L935.1 308zM945.2 268.1L950.8 278.7L939.6 278.7zM949.7 229.2L955.3 239.9L944.1 239.9zM954.3 201.6L959.9 212.2L948.7 212.2zM959.1 174.3L964.7 184.9L953.5 184.9zM963.9 153.1L969.5 163.7L958.3 163.7zM968.9 143.9L974.5 154.6L963.3 154.6zM974 145.9L979.6 156.5L968.4 156.5zM979.2 159.4L984.8 170L973.6 170zM984.5 185L990.1 195.7L978.9 195.7zM989.9 217.8L995.5 228.4L984.3 228.4zM995.4 251.2L1001 261.8L989.8 261.8zM1001.1 291.2L1006.7 301.9L995.5 301.9zM1006.9 326.7L1012.5 337.3L1001.3 337.3zM1012.8 361.3L1018.4 371.9L1007.2 371.9zM1018.9 386.3L1024.5 397L1013.3 397zM1025.1 403.8L1030.7 414.4L1019.5 414.4zM1031.4 414L1037 424.7L1025.8 424.7zM1037.9 421.5L1043.5 432.1L1032.3 432.1zM1044.5 425.7L1050.1 436.3L1038.9 436.3zM1051.3 427.8L1056.9 438.5L1045.7 438.5z" fill="#008c00"/>
<path d="M779.1 434.3 779.9 434.2 780.7 434.1 781.5 434 782.4 433.9 783.2 433.8 784.1 433.7 785 433.5 786.5 434 788.2 433 789.8 430.8 791.8 407.4 793.5 379.1 794.8 345.8 795.4 302.8 796.6 256.6 797.5 212.7 798.2 174 799.4 144.5 801.7 120.7 803.1 125.8 806 144.5 807.4 171.1 808.3 203.8 810.1 239.3 811.3 274.5 813 306.2 814.5 332.3 816.5 355.7 817.7 371.5 819.3 383.5 821 396.5 822.7 400.9 824.5 403 826.3 404.3 828.2 404.7 830.1 404.5 832 404 834 402.3 836.1 398.4 838.1 394 840.3 390.2 842.4 386.5 844.7 382.4 847 377.8 849.3 373.9 851.7 370.8 854.1 368.2 856.6 366.8 859.1 365.9 861.7 365.6 864.4 366.5 867.1 368.4 869.9 371.5 872.7 374.9 875.6 378.8 878.6 382.9 881.7 387 884.8 391.3 887.9 395.5 891.2 399.2 894.5 403 897.9 406.1 901.4 408 904.9 409.4 908.6 410.5 912.3 411.5 916.1 412.4 920 413.4 923.9 414.5 928 415.7 932.1 416.9 936.4 418 940.7 419.2 945.2 420.3 949.7 421.5 954.3 422.6 959.1 423.7 963.9 424.7 968.9 425.7 974 426.7 979.2 427.4 984.5 428 989.9 428.5 995.4 429 1001.1 429.4 1006.9 429.8 1012.8 430.3 1018.9 430.7 1025.1 431.2 1027.3 431.3 1034.4 431.8 1041.5 432.2 1048.6 432.5 1055.7 432.8 1062.8 433 1069.9 433.3 1076.9 433.5 1084 433.6 1091.1 433.8 1098.2 433.9 1105.3 433.9 1112.4 434 1119.5 434.1 1126.6 434.1 1133.7 434.2 1140.8 434.2 1147.9 434.2 1155 434.3 1162.1 434.3 1169.2 434.3 1176.3 434.3 1183.4 434.4 1190.5 434.4 1197.6 434.4 1204.7 434.4 1211.7 434.4 1218.8 434.4 1225.9 434.5 1233 434.5 1240.1 434.5 1258.9 434.5 1262.5 434.5" fill="none" stroke="#0000ff" stroke-width="1.3" stroke-linejoin="round"/>
<path d="M773.9 429.1h10.4v10.4h-10.4zM774.7 429h10.4v10.4h-10.4zM775.5 428.9h10.4v10.4h-10.4zM776.3 428.8h10.4v10.4h-10.4zM777.2 428.7h10.4v10.4h-10.4zM778 428.6h10.4v10.4h-10.4zM778.9 428.5h10.4v10.4h-10.4zM779.8 428.3h10.4v10.4h-10.4zM781.3 428.8h10.4v10.4h-10.4zM783 427.8h10.4v10.4h-10.4zM784.6 425.6h10.4v10.4h-10.4zM786.6 402.2h10.4v10.4h-10.4zM788.3 373.9h10.4v10.4h-10.4zM789.6 340.6h10.4v10.4h-10.4zM790.2 297.6h10.4v10.4h-10.4zM791.4 251.4h10.4v10.4h-10.4zM792.3 207.5h10.4v10.4h-10.4zM793 168.8h10.4v10.4h-10.4zM794.2 139.3h10.4v10.4h-10.4zM796.5 115.5h10.4v10.4h-10.4zM797.9 120.6h10.4v10.4h-10.4zM800.8 139.3h10.4v10.4h-10.4zM802.2 165.9h10.4v10.4h-10.4zM803.1 198.6h10.4v10.4h-10.4zM804.9 234.1h10.4v10.4h-10.4zM806.1 269.3h10.4v10.4h-10.4zM807.8 301h10.4v10.4h-10.4zM809.3 327.1h10.4v10.4h-10.4zM811.3 350.5h10.4v10.4h-10.4zM812.5 366.3h10.4v10.4h-10.4zM814.1 378.3h10.4v10.4h-10.4zM815.8 391.3h10.4v10.4h-10.4zM817.5 395.7h10.4v10.4h-10.4zM819.3 397.8h10.4v10.4h-10.4zM821.1 399.1h10.4v10.4h-10.4zM823 399.5h10.4v10.4h-10.4zM824.9 399.3h10.4v10.4h-10.4zM826.8 398.8h10.4v10.4h-10.4zM828.8 397.1h10.4v10.4h-10.4zM830.9 393.2h10.4v10.4h-10.4zM832.9 388.8h10.4v10.4h-10.4zM835.1 385h10.4v10.4h-10.4zM837.2 381.3h10.4v10.4h-10.4zM839.5 377.2h10.4v10.4h-10.4zM841.8 372.6h10.4v10.4h-10.4zM844.1 368.7h10.4v10.4h-10.4zM846.5 365.6h10.4v10.4h-10.4zM848.9 363h10.4v10.4h-10.4zM851.4 361.6h10.4v10.4h-10.4zM853.9 360.7h10.4v10.4h-10.4zM856.5 360.4h10.4v10.4h-10.4zM859.2 361.3h10.4v10.4h-10.4zM861.9 363.2h10.4v10.4h-10.4zM864.7 366.3h10.4v10.4h-10.4zM867.5 369.7h10.4v10.4h-10.4zM870.4 373.6h10.4v10.4h-10.4zM873.4 377.7h10.4v10.4h-10.4zM876.5 381.8h10.4v10.4h-10.4zM879.6 386.1h10.4v10.4h-10.4zM882.7 390.3h10.4v10.4h-10.4zM886 394h10.4v10.4h-10.4zM889.3 397.8h10.4v10.4h-10.4zM892.7 400.9h10.4v10.4h-10.4zM896.2 402.8h10.4v10.4h-10.4zM899.7 404.2h10.4v10.4h-10.4zM903.4 405.3h10.4v10.4h-10.4zM907.1 406.3h10.4v10.4h-10.4zM910.9 407.2h10.4v10.4h-10.4zM914.8 408.2h10.4v10.4h-10.4zM918.7 409.3h10.4v10.4h-10.4zM922.8 410.5h10.4v10.4h-10.4zM926.9 411.7h10.4v10.4h-10.4zM931.2 412.8h10.4v10.4h-10.4zM935.5 414h10.4v10.4h-10.4zM940 415.1h10.4v10.4h-10.4zM944.5 416.3h10.4v10.4h-10.4zM949.1 417.4h10.4v10.4h-10.4zM953.9 418.5h10.4v10.4h-10.4zM958.7 419.5h10.4v10.4h-10.4zM963.7 420.5h10.4v10.4h-10.4zM968.8 421.5h10.4v10.4h-10.4zM974 422.2h10.4v10.4h-10.4zM979.3 422.8h10.4v10.4h-10.4zM984.7 423.3h10.4v10.4h-10.4zM990.2 423.8h10.4v10.4h-10.4zM995.9 424.2h10.4v10.4h-10.4zM1001.7 424.6h10.4v10.4h-10.4zM1007.6 425.1h10.4v10.4h-10.4zM1013.7 425.5h10.4v10.4h-10.4zM1019.9 426h10.4v10.4h-10.4zM1022.1 426.1h10.4v10.4h-10.4zM1029.2 426.6h10.4v10.4h-10.4zM1036.3 427h10.4v10.4h-10.4zM1043.4 427.3h10.4v10.4h-10.4zM1050.5 427.6h10.4v10.4h-10.4zM1057.6 427.8h10.4v10.4h-10.4zM1064.7 428.1h10.4v10.4h-10.4zM1071.7 428.3h10.4v10.4h-10.4zM1078.8 428.4h10.4v10.4h-10.4zM1085.9 428.6h10.4v10.4h-10.4zM1093 428.7h10.4v10.4h-10.4zM1100.1 428.7h10.4v10.4h-10.4zM1107.2 428.8h10.4v10.4h-10.4zM1114.3 428.9h10.4v10.4h-10.4zM1121.4 428.9h10.4v10.4h-10.4zM1128.5 429h10.4v10.4h-10.4zM1135.6 429h10.4v10.4h-10.4zM1142.7 429h10.4v10.4h-10.4zM1149.8 429.1h10.4v10.4h-10.4zM1156.9 429.1h10.4v10.4h-10.4zM1164 429.1h10.4v10.4h-10.4zM1171.1 429.1h10.4v10.4h-10.4zM1178.2 429.2h10.4v10.4h-10.4zM1185.3 429.2h10.4v10.4h-10.4zM1192.4 429.2h10.4v10.4h-10.4zM1199.5 429.2h10.4v10.4h-10.4zM1206.5 429.2h10.4v10.4h-10.4zM1213.6 429.2h10.4v10.4h-10.4zM1220.7 429.3h10.4v10.4h-10.4zM1227.8 429.3h10.4v10.4h-10.4zM1234.9 429.3h10.4v10.4h-10.4zM1253.7 429.3h10.4v10.4h-10.4zM1257.3 429.3h10.4v10.4h-10.4z" fill="#0000ff"/>
<path d="M754.4 434.5 756 434.5 757.8 434.5 759.8 434.4 762.1 434.4 764.8 434.3 767.9 434.2 771.3 433.5 775.3 422.3 779.9 417 785 416.9 791 419.6 797.8 422.8 805.5 425.8 814.4 429.2 824.5 431.1 836.1 432 849.3 432.8 864.4 433.7 881.7 433.8 901.4 433.9 923.9 434 949.7 434 979.2 434.1 1012.8 434.1 1051.3 434.1 1095.2 434.2 1145.5 434.2 1202.9 434.2 1268.5 434.2" fill="none" stroke="#222" stroke-width="1.0" stroke-linejoin="round"/>
<path d="M749.6 434.5a4.8 4.8 0 1 0 9.6 0a4.8 4.8 0 1 0 -9.6 0zM751.2 434.5a4.8 4.8 0 1 0 9.6 0a4.8 4.8 0 1 0 -9.6 0zM753 434.5a4.8 4.8 0 1 0 9.6 0a4.8 4.8 0 1 0 -9.6 0zM755 434.4a4.8 4.8 0 1 0 9.6 0a4.8 4.8 0 1 0 -9.6 0zM757.3 434.4a4.8 4.8 0 1 0 9.6 0a4.8 4.8 0 1 0 -9.6 0zM760 434.3a4.8 4.8 0 1 0 9.6 0a4.8 4.8 0 1 0 -9.6 0zM763.1 434.2a4.8 4.8 0 1 0 9.6 0a4.8 4.8 0 1 0 -9.6 0zM766.5 433.5a4.8 4.8 0 1 0 9.6 0a4.8 4.8 0 1 0 -9.6 0zM770.5 422.3a4.8 4.8 0 1 0 9.6 0a4.8 4.8 0 1 0 -9.6 0zM775.1 417a4.8 4.8 0 1 0 9.6 0a4.8 4.8 0 1 0 -9.6 0zM780.2 416.9a4.8 4.8 0 1 0 9.6 0a4.8 4.8 0 1 0 -9.6 0zM786.2 419.6a4.8 4.8 0 1 0 9.6 0a4.8 4.8 0 1 0 -9.6 0zM793 422.8a4.8 4.8 0 1 0 9.6 0a4.8 4.8 0 1 0 -9.6 0zM800.7 425.8a4.8 4.8 0 1 0 9.6 0a4.8 4.8 0 1 0 -9.6 0zM809.6 429.2a4.8 4.8 0 1 0 9.6 0a4.8 4.8 0 1 0 -9.6 0zM819.7 431.1a4.8 4.8 0 1 0 9.6 0a4.8 4.8 0 1 0 -9.6 0zM831.3 432a4.8 4.8 0 1 0 9.6 0a4.8 4.8 0 1 0 -9.6 0zM844.5 432.8a4.8 4.8 0 1 0 9.6 0a4.8 4.8 0 1 0 -9.6 0zM859.6 433.7a4.8 4.8 0 1 0 9.6 0a4.8 4.8 0 1 0 -9.6 0zM876.9 433.8a4.8 4.8 0 1 0 9.6 0a4.8 4.8 0 1 0 -9.6 0zM896.6 433.9a4.8 4.8 0 1 0 9.6 0a4.8 4.8 0 1 0 -9.6 0zM919.1 434a4.8 4.8 0 1 0 9.6 0a4.8 4.8 0 1 0 -9.6 0zM944.9 434a4.8 4.8 0 1 0 9.6 0a4.8 4.8 0 1 0 -9.6 0zM974.4 434.1a4.8 4.8 0 1 0 9.6 0a4.8 4.8 0 1 0 -9.6 0zM1008 434.1a4.8 4.8 0 1 0 9.6 0a4.8 4.8 0 1 0 -9.6 0zM1046.5 434.1a4.8 4.8 0 1 0 9.6 0a4.8 4.8 0 1 0 -9.6 0zM1090.4 434.2a4.8 4.8 0 1 0 9.6 0a4.8 4.8 0 1 0 -9.6 0zM1140.7 434.2a4.8 4.8 0 1 0 9.6 0a4.8 4.8 0 1 0 -9.6 0zM1198.1 434.2a4.8 4.8 0 1 0 9.6 0a4.8 4.8 0 1 0 -9.6 0zM1263.7 434.2a4.8 4.8 0 1 0 9.6 0a4.8 4.8 0 1 0 -9.6 0z" fill="#000000"/>
<text x="62" y="26" font-size="36">(a)</text>
<text x="726" y="26" font-size="36">(b)</text>
<text x="74" y="438.5" font-size="23" text-anchor="end">0</text>
<text x="74" y="385.2" font-size="23" text-anchor="end">100</text>
<text x="74" y="331.9" font-size="23" text-anchor="end">200</text>
<text x="74" y="278.6" font-size="23" text-anchor="end">300</text>
<text x="74" y="225.4" font-size="23" text-anchor="end">400</text>
<text x="74" y="172.1" font-size="23" text-anchor="end">500</text>
<text x="74" y="118.8" font-size="23" text-anchor="end">600</text>
<text x="74" y="65.5" font-size="23" text-anchor="end">700</text>
<text x="80" y="452" font-size="23" text-anchor="middle">0</text>
<text x="186.5" y="452" font-size="23" text-anchor="middle">0.2</text>
<text x="293" y="452" font-size="23" text-anchor="middle">0.4</text>
<text x="399.5" y="452" font-size="23" text-anchor="middle">0.6</text>
<text x="506" y="452" font-size="23" text-anchor="middle">0.8</text>
<text x="612.5" y="452" font-size="23" text-anchor="middle">1</text>
<text x="739" y="442.5" font-size="23" text-anchor="end">0</text>
<text x="739" y="380.4" font-size="23" text-anchor="end">0.1</text>
<text x="739" y="318.3" font-size="23" text-anchor="end">0.2</text>
<text x="739" y="256.2" font-size="23" text-anchor="end">0.3</text>
<text x="739" y="194.2" font-size="23" text-anchor="end">0.4</text>
<text x="739" y="132.1" font-size="23" text-anchor="end">0.5</text>
<text x="744.3" y="456" font-size="23" text-anchor="middle">0</text>
<text x="815.2" y="456" font-size="23" text-anchor="middle">2</text>
<text x="886.2" y="456" font-size="23" text-anchor="middle">4</text>
<text x="957.1" y="456" font-size="23" text-anchor="middle">6</text>
<text x="1028.1" y="456" font-size="23" text-anchor="middle">8</text>
<text x="1099" y="456" font-size="23" text-anchor="middle">10</text>
<text x="1170" y="456" font-size="23" text-anchor="middle">12</text>
<text x="1240.9" y="456" font-size="23" text-anchor="middle">14</text>
<text x="216" y="475" font-size="26">Relative Pressure (P<tspan font-size="17.5" dy="10">S</tspan><tspan dy="-10">/P</tspan><tspan font-size="17.5" dy="10">0</tspan><tspan dy="-10">)</tspan></text>
<text x="925" y="480" font-size="26">Pore width [nm]</text>
<text transform="translate(30,416.5) rotate(-90)" font-size="26.6">Volume Adsorbed (STP) [cm<tspan font-size="15" dy="-18" dx="1">3</tspan><tspan dy="18" dx="1">/g]</tspan></text>
<text transform="translate(692,348.5) rotate(-90)" font-size="24.5">dV<tspan font-size="16" dy="7">p</tspan><tspan dy="-7" dx="1" font-size="23.5">/dD</tspan><tspan font-size="16" dy="7">p</tspan><tspan dy="-7" dx="0" font-size="25.5"> [cm</tspan><tspan font-size="15" dy="-17" dx="1">3</tspan><tspan dy="17" dx="1" font-size="25.5">/g.nm]</tspan></text>
<path d="M115 99.7H136.6" stroke="#ff0000" stroke-width="1.5"/>
<path d="M115 95.4l4.3 4.3l-4.3 4.3l-4.3 -4.3zM136.6 95.4l4.3 4.3l-4.3 4.3l-4.3 -4.3z" fill="#ff0000"/>
<text x="146.5" y="110.2" font-size="29.5">NPC-1</text>
<path d="M115 125.7H136.6" stroke="#008c00" stroke-width="1.5"/>
<path d="M115 121.6L119.3 129.8L110.7 129.8zM136.6 121.6L140.9 129.8L132.3 129.8z" fill="#008c00"/>
<text x="146.5" y="136.2" font-size="29.5">NPC-2</text>
<path d="M115 152H136.6" stroke="#0000ff" stroke-width="1.5"/>
<path d="M111.4 148.4h7.2v7.2h-7.2zM133 148.4h7.2v7.2h-7.2z" fill="#0000ff"/>
<text x="146.5" y="162.5" font-size="29.5">CMK3</text>
<path d="M115 178.2H136.6" stroke="#444" stroke-width="1.5"/>
<path d="M111 178.2a4 4 0 1 0 8 0a4 4 0 1 0 -8 0zM132.6 178.2a4 4 0 1 0 8 0a4 4 0 1 0 -8 0z" fill="#000000"/>
<text x="146.5" y="188.7" font-size="29.5">GNPC</text>
<path d="M1100.7 104.4H1122" stroke="#ff0000" stroke-width="1.5"/>
<path d="M1100.7 98.4l6 6l-6 6l-6 -6zM1122 98.4l6 6l-6 6l-6 -6z" fill="#ff0000"/>
<text x="1134" y="114.9" font-size="29.5">NPC-1</text>
<path d="M1100.7 129.6H1122" stroke="#008c00" stroke-width="1.5"/>
<path d="M1100.7 124.3L1106.3 134.9L1095.1 134.9zM1122 124.3L1127.6 134.9L1116.4 134.9z" fill="#008c00"/>
<text x="1134" y="140.1" font-size="29.5">NPC-2</text>
<path d="M1100.7 156.7H1122" stroke="#0000ff" stroke-width="1.5"/>
<path d="M1095.9 151.9h9.6v9.6h-9.6zM1117.2 151.9h9.6v9.6h-9.6z" fill="#0000ff"/>
<text x="1134" y="167.2" font-size="29.5">CMK3</text>
<path d="M1100.7 182.3H1122" stroke="#444" stroke-width="1.5"/>
<path d="M1095.9 182.3a4.8 4.8 0 1 0 9.6 0a4.8 4.8 0 1 0 -9.6 0zM1117.2 182.3a4.8 4.8 0 1 0 9.6 0a4.8 4.8 0 1 0 -9.6 0z" fill="#000000"/>
<text x="1134" y="192.8" font-size="29.5">GNPC</text>
</svg></body></html>
